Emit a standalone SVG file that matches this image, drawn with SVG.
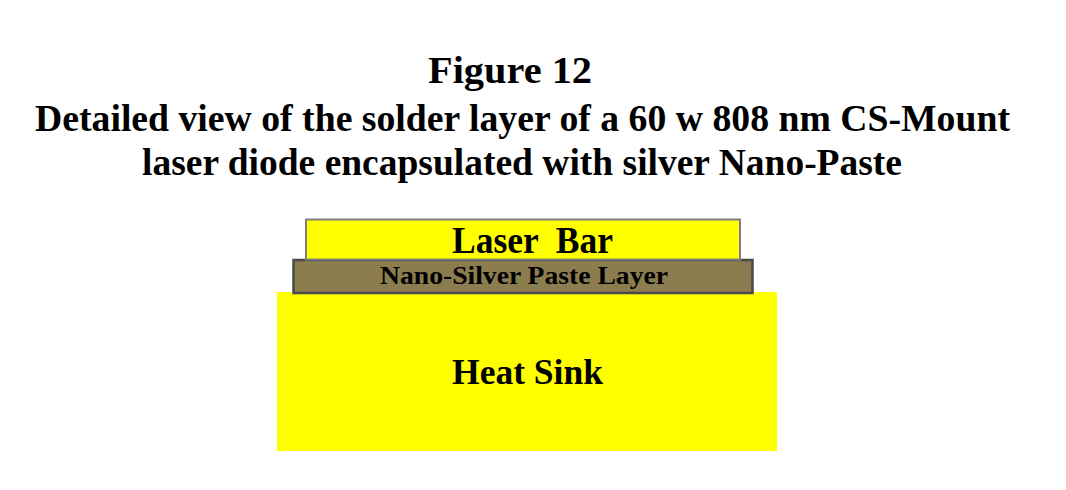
<svg xmlns="http://www.w3.org/2000/svg" width="1066" height="490" viewBox="0 0 1066 490">
<style>
.t{font-family:"Liberation Serif","Times New Roman",serif;font-weight:bold;fill:#000;}
</style>
<rect width="1066" height="490" fill="#fff"/>
<g id="title">
<text class="t" x="428" y="83" font-size="38" textLength="164" lengthAdjust="spacingAndGlyphs">Figure 12</text>
<text class="t" x="35" y="131" font-size="38" textLength="975" lengthAdjust="spacingAndGlyphs">Detailed view of the solder layer of a 60 w 808 nm CS-Mount</text>
<text class="t" x="142" y="175" font-size="38" textLength="760" lengthAdjust="spacingAndGlyphs">laser diode encapsulated with silver Nano-Paste</text>
</g>
<g id="heat-sink">
<rect x="277" y="292" width="500" height="159" fill="#ffff00"/>
<text class="t" x="452" y="384" font-size="35" textLength="151" lengthAdjust="spacingAndGlyphs">Heat Sink</text>
</g>
<g id="paste-layer">
<rect x="293.5" y="260" width="459" height="33" fill="#8c7d4f" stroke="#4a4a4a" stroke-width="2.5"/>
<text class="t" x="380" y="284" font-size="26" textLength="288" lengthAdjust="spacingAndGlyphs">Nano-Silver Paste Layer</text>
</g>
<g id="laser-bar">
<rect x="306" y="219.5" width="434" height="40" fill="#ffff00" stroke="#808080" stroke-width="2"/>
<text class="t" x="452" y="253" font-size="38" textLength="161" lengthAdjust="spacingAndGlyphs" xml:space="preserve">Laser  Bar</text>
</g>
</svg>
